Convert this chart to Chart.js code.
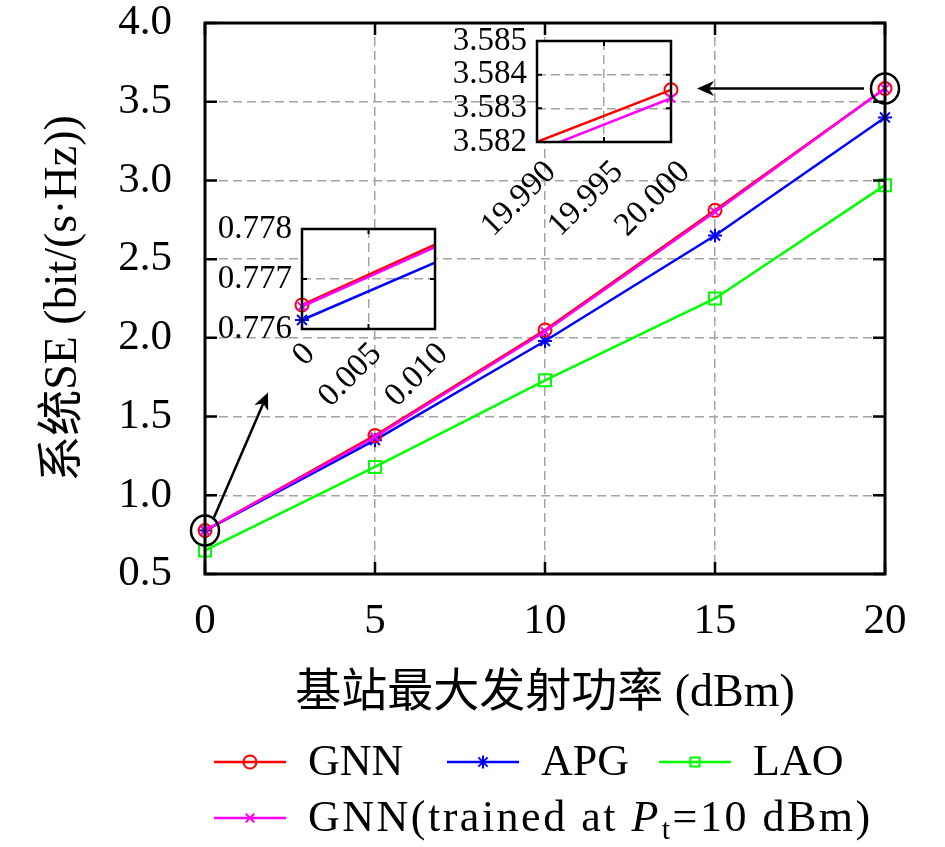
<!DOCTYPE html>
<html>
<head>
<meta charset="utf-8">
<script src="https://cdn.jsdelivr.net/npm/chart.js@4.4.1/dist/chart.umd.min.js"></script>
<style>
  html, body { margin: 0; padding: 0; background: #fff; }
  #wrap { position: relative; width: 945px; height: 847px; }
  canvas { position: absolute; }
</style>
</head>
<body>
<div id="wrap">
  <canvas id="main" width="945" height="847" style="left:0;top:0"></canvas>
  <canvas id="zoomLow" width="250" height="200" style="left:210px;top:215px"></canvas>
  <canvas id="zoomHigh" width="250" height="230" style="left:440px;top:20px"></canvas>
</div>
<script>
// data
const powerDbm = [0, 5, 10, 15, 20];
const gnnSE = [0.77648, 1.38, 2.05, 2.81, 3.58355];
const apgSE = [0.77618, 1.35, 1.98, 2.65, 3.40];
const laoSE = [0.65, 1.18, 1.73, 2.25, 2.97];
const gnnTrainedSE = [0.77645, 1.37, 2.04, 2.80, 3.5833];

const mainXTicks = [0, 5, 10, 15, 20];
const mainYTicks = [0.5, 1.0, 1.5, 2.0, 2.5, 3.0, 3.5, 4.0];
const lowXTicks = [0, 0.005, 0.010];
const lowYTicks = [0.776, 0.777, 0.778];
const highXTicks = [19.990, 19.995, 20.000];
const highYTicks = [3.582, 3.583, 3.584, 3.585];

const serif = '"Liberation Serif", "Noto Sans CJK SC", serif';
Chart.defaults.font.family = serif;
Chart.defaults.color = '#000';

const styles = [
  { label: 'GNN', values: gnnSE, color: '#ff0000', point: 'circle', r: 6.5, order: 1 },
  { label: 'APG', values: apgSE, color: '#0000ff', point: 'star', r: 7, order: 2 },
  { label: 'LAO', values: laoSE, color: '#00ff00', point: 'rect', r: 8.5, order: 3 },
  { label: 'GNN(trained at Pt=10 dBm)', values: gnnTrainedSE, color: '#ff00ff', point: 'crossRot', r: 6, order: 0 }
];

function makeDatasets(clip) {
  return styles.map(s => ({
    label: s.label,
    data: powerDbm.map((p, i) => ({ x: p, y: s.values[i] })),
    borderColor: s.color,
    backgroundColor: s.color,
    borderWidth: 2.5,
    pointStyle: s.point,
    pointRadius: s.r,
    pointBorderWidth: 2,
    pointBorderColor: s.color,
    pointBackgroundColor: 'rgba(0,0,0,0)',
    tension: 0,
    order: s.order,
    clip: clip
  }));
}

function fixedTicks(list) {
  return s => { s.ticks = list.map(v => ({ value: v })); };
}

// zoomed insets put the neighbouring points far off the canvas;
// keep the real pixel instead of the int16 clamp so the slope stays right
function unclamp(s) {
  s.getPixelForDecimal = function (d) {
    if (this._reversePixels) d = 1 - d;
    return this._startPixel + d * this._length;
  };
}

// fixed box sizes, no extra room for overhanging labels
function fitY(width, free) {
  return s => {
    s.width = width; s.paddingTop = 0; s.paddingBottom = 0;
    if (free) unclamp(s);
  };
}
function fitX(height, free) {
  return s => {
    s.height = height; s.paddingLeft = 0; s.paddingRight = 0;
    if (free) unclamp(s);
  };
}

// white box, black frame, ticks pointing inwards on all four sides
const framePlugin = {
  id: 'frame',
  beforeDraw(chart) {
    const a = chart.chartArea, ctx = chart.ctx;
    ctx.save();
    ctx.fillStyle = '#fff';
    ctx.fillRect(a.left, a.top, a.right - a.left, a.bottom - a.top);
    ctx.restore();
  },
  afterDatasetsDraw(chart, args, opts) {
    const a = chart.chartArea, ctx = chart.ctx, len = opts.tickLen;
    ctx.save();
    ctx.strokeStyle = '#000';
    ctx.lineWidth = opts.tickWidth;
    ctx.beginPath();
    chart.scales.x.ticks.forEach(t => {
      const px = chart.scales.x.getPixelForValue(t.value);
      ctx.moveTo(px, a.bottom); ctx.lineTo(px, a.bottom - len);
      ctx.moveTo(px, a.top); ctx.lineTo(px, a.top + len);
    });
    chart.scales.y.ticks.forEach(t => {
      const py = chart.scales.y.getPixelForValue(t.value);
      ctx.moveTo(a.left, py); ctx.lineTo(a.left + len, py);
      ctx.moveTo(a.right, py); ctx.lineTo(a.right - len, py);
    });
    ctx.stroke();
    ctx.lineWidth = opts.lineWidth;
    ctx.strokeRect(a.left, a.top, a.right - a.left, a.bottom - a.top);
    ctx.restore();
  }
};

function arrow(ctx, x1, y1, x2, y2) {
  const ang = Math.atan2(y2 - y1, x2 - x1);
  const L = 17, W = 7.5, N = 5;
  ctx.beginPath();
  ctx.moveTo(x1, y1);
  ctx.lineTo(x2 - (L - N) * Math.cos(ang), y2 - (L - N) * Math.sin(ang));
  ctx.stroke();
  ctx.save();
  ctx.translate(x2, y2);
  ctx.rotate(ang);
  ctx.beginPath();
  ctx.moveTo(0, 0);
  ctx.lineTo(-L, -W);
  ctx.lineTo(-L + N, 0);
  ctx.lineTo(-L, W);
  ctx.closePath();
  ctx.fill();
  ctx.restore();
}

// circles around the zoomed points and arrows to the insets
const notePlugin = {
  id: 'notes',
  afterDatasetsDraw(chart) {
    const ctx = chart.ctx;
    const pts = chart.getDatasetMeta(0).data;
    const p0 = pts[0], p4 = pts[pts.length - 1];
    ctx.save();
    ctx.strokeStyle = '#000';
    ctx.fillStyle = '#000';
    ctx.lineWidth = 2.5;
    [p0, p4].forEach(p => {
      ctx.beginPath();
      ctx.ellipse(p.x, p.y, 14, 15, 0, 0, Math.PI * 2);
      ctx.stroke();
    });
    arrow(ctx, p0.x + 9, p0.y - 13, p0.x + 63, p0.y - 138);
    arrow(ctx, p4.x - 21, p4.y, p4.x - 188, p4.y);
    ctx.restore();
  }
};

// legend in two rows: line sample with marker, then label
const legendPlugin = {
  id: 'sketchLegend',
  afterDraw(chart) {
    const ctx = chart.ctx;
    const spots = [[214, 762], [447, 762], [659, 762], [214, 818]];
    chart.data.datasets.forEach((ds, i) => {
      const [x, y] = spots[i];
      ctx.save();
      ctx.strokeStyle = ds.borderColor;
      ctx.lineWidth = 2.5;
      ctx.beginPath();
      ctx.moveTo(x, y); ctx.lineTo(x + 72, y);
      ctx.stroke();
      ctx.fillStyle = 'rgba(0,0,0,0)';
      ctx.lineWidth = 2;
      Chart.helpers.drawPoint(ctx, { pointStyle: ds.pointStyle, radius: Math.min(ds.pointRadius, 6.5), borderWidth: 2, rotation: 0 }, x + 36, y);
      ctx.fillStyle = '#000';
      ctx.textBaseline = 'alphabetic';
      ctx.textAlign = 'left';
      const base = y + 13;
      let tx = x + 94;
      ctx.font = '44px ' + serif;
      if (i === 3) {
        ctx.letterSpacing = '2.5px';
        const parts = [
          ['GNN(trained at ', '44px ' + serif, 0],
          ['P', 'italic 44px ' + serif, 0],
          ['t', '30px ' + serif, 8],
          ['=10 dBm)', '44px ' + serif, 0]
        ];
        parts.forEach(([t, f, dy]) => {
          ctx.font = f;
          ctx.fillText(t, tx, base + dy);
          tx += ctx.measureText(t).width + (t === 'P' ? 1 : 0);
        });
      } else {
        ctx.fillText(ds.label, tx, base);
      }
      ctx.restore();
    });
  }
};

const gridOpts = { color: '#a3a3a3', lineWidth: 1.5, drawTicks: false };
const borderOpts = { display: false, dash: [9, 5] };

new Chart(document.getElementById('main'), {
  type: 'line',
  data: { datasets: makeDatasets(false) },
  options: {
    responsive: false,
    animation: false,
    devicePixelRatio: 1,
    layout: { padding: { top: 23, right: 60, bottom: 123, left: 0 } },
    plugins: { legend: { display: false }, tooltip: { enabled: false },
      frame: { tickLen: 12, tickWidth: 2.5, lineWidth: 3 } },
    scales: {
      x: {
        type: 'linear', min: 0, max: 20,
        afterBuildTicks: fixedTicks(mainXTicks),
        ticks: { padding: 22, font: { size: 43 }, callback: v => String(v) },
        grid: gridOpts, border: borderOpts,
        title: { display: true, text: '基站最大发射功率 (dBm)', font: { size: 46 }, padding: { top: 0, bottom: 2 } },
        afterFit: fitX(150, false)
      },
      y: {
        type: 'linear', min: 0.5, max: 4.0,
        afterBuildTicks: fixedTicks(mainYTicks),
        ticks: { padding: 33, font: { size: 43 }, callback: v => v.toFixed(1) },
        grid: gridOpts, border: borderOpts,
        title: { display: true, text: '系统SE (bit/(s·Hz))', font: { size: 46 }, padding: { top: 36, bottom: 0 } },
        afterFit: fitY(205, false)
      }
    }
  },
  plugins: [framePlugin, notePlugin, legendPlugin]
});

function inset(id, xr, yr, xTicks, yTicks, xFmt, pad, yWidth, xHeight, clip, shift) {
  new Chart(document.getElementById(id), {
    type: 'line',
    data: { datasets: makeDatasets(clip) },
    options: {
      responsive: false,
      animation: false,
      devicePixelRatio: 1,
      layout: { padding: pad },
      plugins: { legend: { display: false }, tooltip: { enabled: false },
        frame: { tickLen: 5, tickWidth: 2, lineWidth: 2.5 } },
      scales: {
        x: {
          type: 'linear', min: xr[0], max: xr[1],
          afterBuildTicks: fixedTicks(xTicks),
          ticks: { padding: shift[1], labelOffset: shift[0], font: { size: 33 }, minRotation: 45, maxRotation: 45, autoSkip: false, callback: xFmt },
          grid: gridOpts, border: borderOpts,
          afterFit: fitX(xHeight, true)
        },
        y: {
          type: 'linear', min: yr[0], max: yr[1],
          afterBuildTicks: fixedTicks(yTicks),
          ticks: { padding: 10, font: { size: 33 }, autoSkip: false, callback: v => v.toFixed(3) },
          grid: gridOpts, border: borderOpts,
          afterFit: fitY(yWidth, true)
        }
      }
    },
    plugins: [framePlugin]
  });
}

inset('zoomLow', [0, 0.010], [0.776, 0.778], lowXTicks, lowYTicks,
  v => (v === 0 ? '0' : v.toFixed(3)),
  { top: 14, right: 25, bottom: 0, left: 0 }, 92, 86,
  { left: 10, top: 0, right: 0, bottom: 10 }, [8, 6]);

inset('zoomHigh', [19.990, 20.000], [3.582, 3.585], highXTicks, highYTicks,
  v => v.toFixed(3),
  { top: 21, right: 19, bottom: 0, left: 0 }, 97, 108,
  { left: 0, top: 0, right: 10, bottom: 0 }, [14, 11]);
</script>
</body>
</html>
